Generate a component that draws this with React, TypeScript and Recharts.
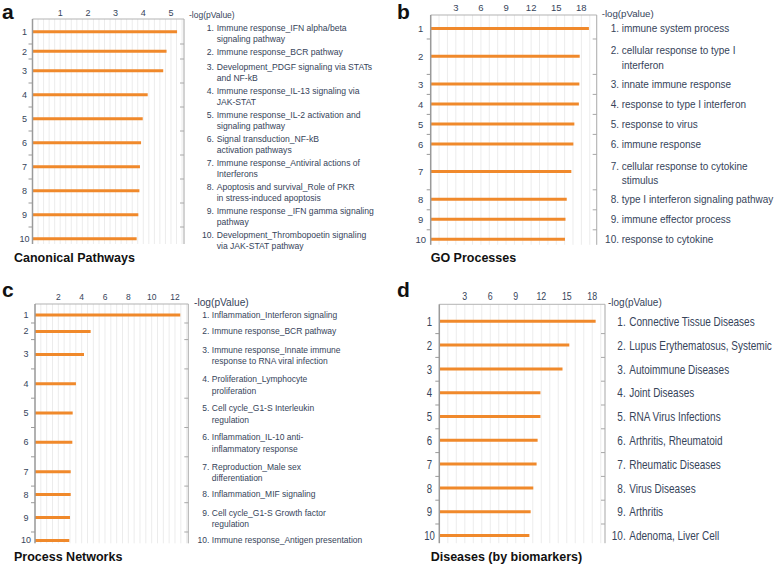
import React from "react"
import { Bar, BarChart, CartesianGrid, XAxis, YAxis } from "recharts"

// -log(pValue), ranks 1..10 top to bottom
const pathwayLabels = [
  "Immune response_IFN alpha/beta\nsignaling pathway",
  "Immune response_BCR pathway",
  "Development_PDGF signaling via STATs\nand NF-kB",
  "Immune response_IL-13 signaling via\nJAK-STAT",
  "Immune response_IL-2 activation and\nsignaling pathway",
  "Signal transduction_NF-kB\nactivation pathways",
  "Immune response_Antiviral actions of\nInterferons",
  "Apoptosis and survival_Role of PKR\nin stress-induced apoptosis",
  "Immune response _IFN gamma signaling\npathway",
  "Development_Thrombopoetin signaling\nvia JAK-STAT pathway",
]
const pathwayValues = [5.22, 4.84, 4.72, 4.16, 3.98, 3.92, 3.88, 3.86, 3.82, 3.76]
const pathwayTicks = [1, 2, 3, 4, 5]

const goLabels = [
  "immune system process",
  "cellular response to type I\ninterferon",
  "innate immune response",
  "response to type I interferon",
  "response to virus",
  "immune response",
  "cellular response to cytokine\nstimulus",
  "type I interferon signaling pathway",
  "immune effector process",
  "response to cytokine",
]
const goValues = [18.9, 17.8, 17.76, 17.7, 17.16, 17.04, 16.8, 16.25, 16.1, 16.04]
const goTicks = [3, 6, 9, 12, 15, 18]

const networkLabels = [
  "Inflammation_Interferon signaling",
  "Immune response_BCR pathway",
  "Immune response_Innate immune\nresponse to RNA viral infection",
  "Proliferation_Lymphocyte\nproliferation",
  "Cell cycle_G1-S Interleukin\nregulation",
  "Inflammation_IL-10 anti-\ninflammatory response",
  "Reproduction_Male sex\ndifferentiation",
  "Inflammation_MIF signaling",
  "Cell cycle_G1-S Growth factor\nregulation",
  "Immune response_Antigen presentation",
]
const networkValues = [12.45, 4.77, 4.2, 3.51, 3.23, 3.2, 3.06, 3.06, 3.0, 2.94]
const networkTicks = [2, 4, 6, 8, 10, 12]

const diseaseLabels = [
  "Connective Tissue Diseases",
  "Lupus Erythematosus, Systemic",
  "Autoimmune Diseases",
  "Joint Diseases",
  "RNA Virus Infections",
  "Arthritis, Rheumatoid",
  "Rheumatic Diseases",
  "Virus Diseases",
  "Arthritis",
  "Adenoma, Liver Cell",
]
const diseaseValues = [18.4, 15.3, 14.5, 11.9, 11.9, 11.57, 11.45, 11.06, 10.75, 10.6]
const diseaseTicks = [3, 6, 9, 12, 15, 18]

const FONT = "'Liberation Sans', Arial, Helvetica, sans-serif"
const TEXT = "#36445a"
const BAR = "#f0892b"

type Layout = {
  left: number
  top: number
  width: number
  axisTop: number
  plotLeft: number
  plotRight: number
  xMax: number
  gridStep: number
  slot1: number
  slot2: number
  topPad: number
  botPad: number
  tickFont: number
  tickMargin: number
  numFont: number
  numGap: number
  labelFont: number
  lineH: number
  numEnd: number
  textGap: number
  sx: number
}

type Row = { rank: number; lines: string[]; pos: number; edge: number; value: number }

const buildRows = (labels: string[], values: number[], l: Layout): Row[] => {
  let acc = 0
  return labels.map((label, i) => {
    const lines = label.split("\n")
    const h = lines.length > 1 ? l.slot2 : l.slot1
    const pos = acc + h / 2
    acc += h
    return { rank: i + 1, lines, pos, edge: acc, value: values[i] }
  })
}

const near = (a: number, b: number) => Math.abs(a - b) < 1e-6

// room under the plot so wrapped labels of the last row are not clipped
const EXTRA_BOTTOM = 20

const Panel = ({
  labels,
  values,
  majors,
  l,
}: {
  labels: string[]
  values: number[]
  majors: number[]
  l: Layout
}) => {
  const rows = buildRows(labels, values, l)
  const domainY = [rows[0].pos - l.topPad, rows[rows.length - 1].pos + l.botPad]
  const span = domainY[1] - domainY[0]
  const xAxisH = l.axisTop - l.top
  const height = xAxisH + span + EXTRA_BOTTOM

  const yTicks: number[] = []
  rows.forEach((r, i) => {
    yTicks.push(r.pos)
    if (i < rows.length - 1) yTicks.push(r.edge)
  })

  const gridTicks: number[] = []
  for (let k = 1; k * l.gridStep <= l.xMax + 1e-9; k++) {
    gridTicks.push(Math.round(k * l.gridStep * 1000) / 1000)
  }

  const rowAt = (v: number) => rows.find((r) => near(r.pos, v))

  const topTick = (props: any) => {
    const { x, y, payload } = props
    if (!majors.some((m) => near(m, payload.value))) return <g />
    return (
      <text
        transform={`translate(${x},${y}) scale(${l.sx},1)`}
        textAnchor="middle"
        fontSize={l.tickFont}
        fontFamily={FONT}
        fill={TEXT}
      >
        {payload.value}
      </text>
    )
  }

  const leftTick = (props: any) => {
    const { x, y, payload } = props
    const row = rowAt(payload.value)
    if (!row) {
      return <line x1={x - 4} x2={x} y1={y} y2={y} stroke="#9a9a9a" strokeWidth={1} />
    }
    return (
      <text
        transform={`translate(${x - l.numGap},${y}) scale(${l.sx},1)`}
        dy="0.35em"
        textAnchor="middle"
        fontSize={l.numFont}
        fontFamily={FONT}
        fill={TEXT}
      >
        {row.rank}
      </text>
    )
  }

  const rightTick = (props: any) => {
    const { x, y, payload } = props
    const row = rowAt(payload.value)
    if (!row) {
      return <line x1={x - 4} x2={x} y1={y} y2={y} stroke="#a8a8a8" strokeWidth={1} />
    }
    const first = -((row.lines.length - 1) * l.lineH * 0.4)
    return (
      <g transform={`translate(${x + l.numEnd},${y}) scale(${l.sx},1)`}>
        <text
          y={first}
          dy="0.35em"
          textAnchor="end"
          fontSize={l.labelFont}
          fontFamily={FONT}
          fill={TEXT}
        >
          {row.rank}.
        </text>
        {row.lines.map((line, j) => (
          <text
            key={j}
            x={l.textGap / l.sx}
            y={first + j * l.lineH}
            dy="0.35em"
            fontSize={l.labelFont}
            fontFamily={FONT}
            fill={TEXT}
          >
            {line}
          </text>
        ))}
      </g>
    )
  }

  return (
    <div style={{ position: "absolute", left: l.left, top: l.top }}>
      <BarChart
        width={l.width}
        height={height}
        data={rows}
        layout="vertical"
        margin={{ top: 0, right: 0, bottom: EXTRA_BOTTOM, left: 0 }}
      >
        <CartesianGrid horizontal={false} stroke="#ececec" yAxisId="left" />
        <XAxis
          type="number"
          orientation="top"
          domain={[0, l.xMax]}
          allowDataOverflow
          ticks={gridTicks}
          interval={0}
          height={xAxisH}
          tickLine={false}
          tickSize={0}
          tickMargin={l.tickMargin}
          axisLine={{ stroke: "#b3b3b3" }}
          tick={topTick}
        />
        <YAxis
          yAxisId="left"
          type="number"
          dataKey="pos"
          domain={domainY}
          allowDataOverflow
          ticks={yTicks}
          interval={0}
          width={l.plotLeft - l.left}
          tickLine={false}
          tickSize={0}
          tickMargin={0}
          axisLine={{ stroke: "#9a9a9a", strokeWidth: 1.5 }}
          tick={leftTick}
        />
        <YAxis
          yAxisId="right"
          orientation="right"
          type="number"
          dataKey="pos"
          domain={domainY}
          allowDataOverflow
          ticks={yTicks}
          interval={0}
          width={l.left + l.width - l.plotRight}
          tickLine={false}
          tickSize={0}
          tickMargin={0}
          axisLine={{ stroke: "#b0b0b0" }}
          tick={rightTick}
        />
        <Bar
          dataKey="value"
          yAxisId="left"
          fill={BAR}
          barSize={3}
          isAnimationActive={false}
        />
      </BarChart>
    </div>
  )
}

const layoutA: Layout = {
  left: 0, top: 0, width: 390, axisTop: 19, plotLeft: 32.5, plotRight: 184,
  xMax: 5.47, gridStep: 0.2, slot1: 15, slot2: 24, topPad: 13, botPad: 5,
  tickFont: 9, tickMargin: 3, numFont: 9, numGap: 8,
  labelFont: 8.6, lineH: 11, numEnd: 30, textGap: 2.7, sx: 1,
}
const layoutB: Layout = {
  left: 390, top: 0, width: 388, axisTop: 15, plotLeft: 430.7, plotRight: 596.7,
  xMax: 19.83, gridStep: 1, slot1: 20, slot2: 35.4, topPad: 14, botPad: 5,
  tickFont: 9.5, tickMargin: 4, numFont: 9.5, numGap: 10,
  labelFont: 10, lineH: 14.7, numEnd: 22.3, textGap: 2.7, sx: 1,
}
const layoutC: Layout = {
  left: 0, top: 280, width: 390, axisTop: 304, plotLeft: 35, plotRight: 188.3,
  xMax: 13.14, gridStep: 0.5, slot1: 16.6, slot2: 29.3, topPad: 10.7, botPad: 3,
  tickFont: 8.5, tickMargin: 4, numFont: 9, numGap: 9,
  labelFont: 8.5, lineH: 11.7, numEnd: 21, textGap: 2.5, sx: 1,
}
const layoutD: Layout = {
  left: 390, top: 280, width: 388, axisTop: 304.3, plotLeft: 439.3, plotRight: 605,
  xMax: 19.5, gridStep: 1, slot1: 23.8, slot2: 23.8, topPad: 17.4, botPad: 7.3,
  tickFont: 11, tickMargin: 4.5, numFont: 12, numGap: 9.8,
  labelFont: 12.5, lineH: 14, numEnd: 20.7, textGap: 3.6, sx: 0.8,
}

const Caption = ({ x, y, size, bold, text }: { x: number; y: number; size: number; bold?: boolean; text: string }) => (
  <text
    x={x}
    y={y}
    fontSize={size}
    fontWeight={bold ? "bold" : "normal"}
    fontFamily={FONT}
    fill={bold ? "#111" : TEXT}
  >
    {text}
  </text>
)

export default function App() {
  return (
    <div
      style={{
        position: "fixed",
        left: 0,
        top: 0,
        width: 778,
        height: 565,
        background: "#fff",
        overflow: "hidden",
      }}
    >
      <Panel labels={pathwayLabels} values={pathwayValues} majors={pathwayTicks} l={layoutA} />
      <Panel labels={goLabels} values={goValues} majors={goTicks} l={layoutB} />
      <Panel labels={networkLabels} values={networkValues} majors={networkTicks} l={layoutC} />
      <Panel labels={diseaseLabels} values={diseaseValues} majors={diseaseTicks} l={layoutD} />
      <svg
        width={778}
        height={565}
        style={{ position: "absolute", left: 0, top: 0, pointerEvents: "none" }}
      >
        <Caption x={2} y={19} size={21} bold text="a" />
        <Caption x={397} y={19} size={21} bold text="b" />
        <Caption x={2} y={297} size={21} bold text="c" />
        <Caption x={397} y={297} size={21} bold text="d" />
        <Caption x={14} y={261.5} size={12.5} bold text="Canonical Pathways" />
        <Caption x={430.7} y={261.5} size={12.5} bold text="GO Processes" />
        <Caption x={14} y={561} size={12.5} bold text="Process Networks" />
        <Caption x={430.7} y={561} size={12.5} bold text="Diseases (by biomarkers)" />
        <Caption x={189} y={18} size={8.5} text="-log(pValue)" />
        <Caption x={601.7} y={16.5} size={9.7} text="-log(pValue)" />
        <Caption x={194} y={305.5} size={10.2} text="-log(pValue)" />
        <Caption x={608} y={305.5} size={10} text="-log(pValue)" />
      </svg>
    </div>
  )
}
